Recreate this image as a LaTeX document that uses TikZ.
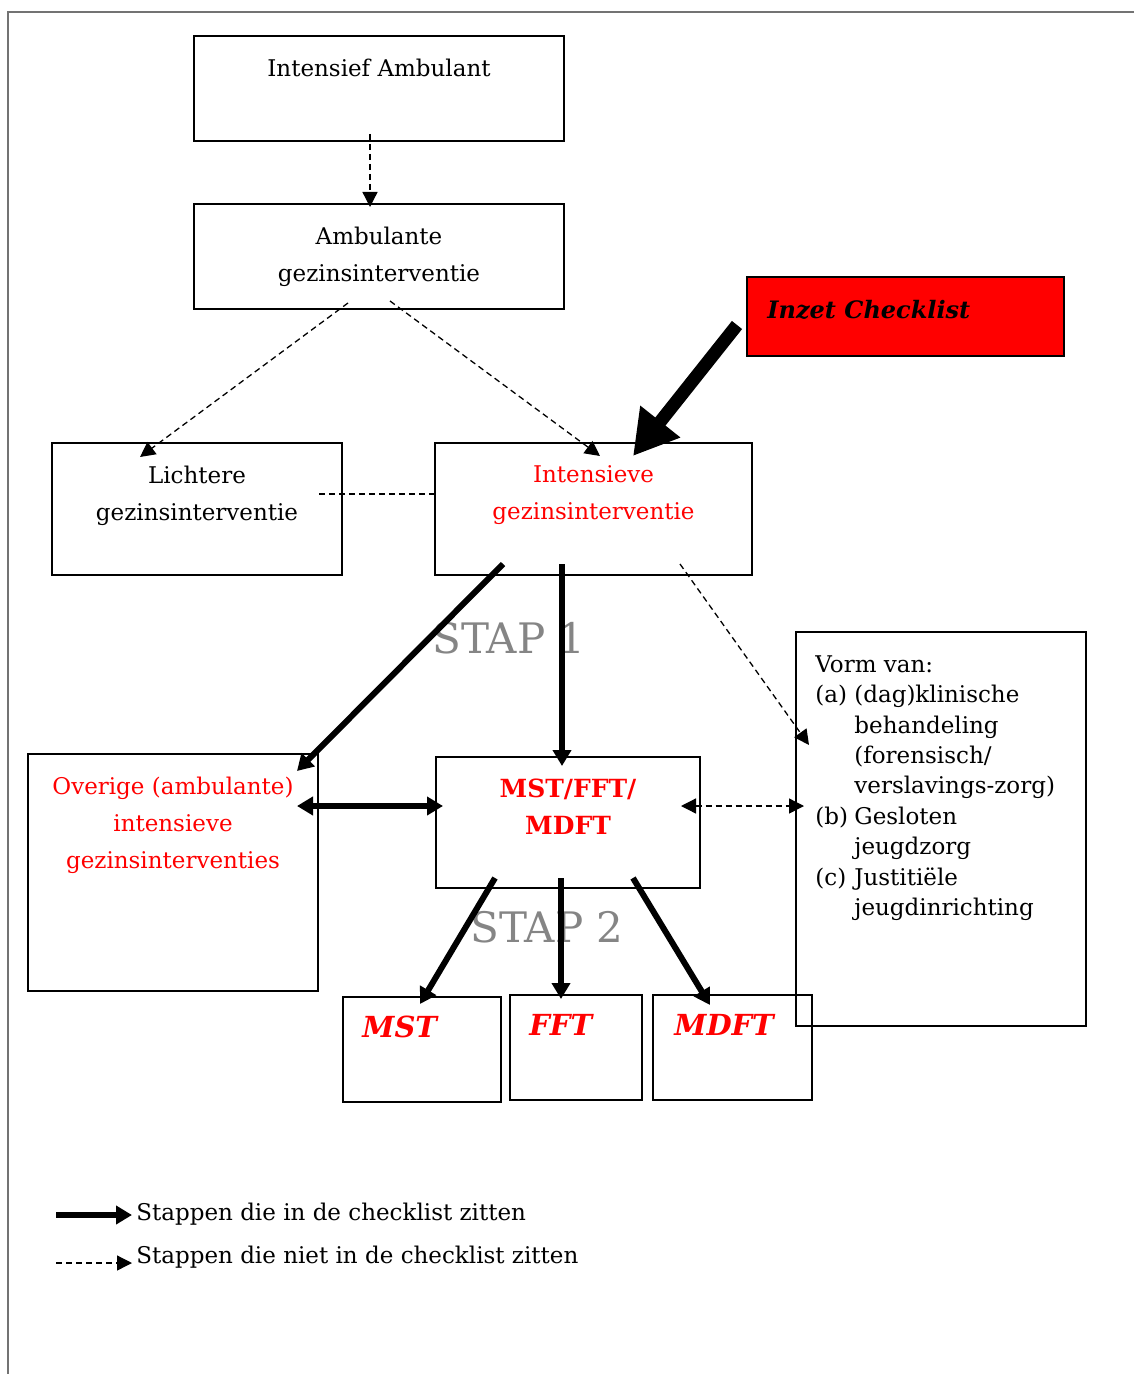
\documentclass[tikz,border=0pt]{standalone}
\usepackage{fontspec}
\setmainfont{DejaVu Serif}
\usetikzlibrary{positioning,arrows.meta}
\tikzset{
  box/.style={draw, line width=1pt, inner sep=0pt},
  txt/.style={inner sep=0pt, align=center},
  nietstap/.style={dash pattern=on 3pt off 2pt, line width=0.65pt},
  niettip/.style={-{Triangle[length=7.5pt,width=7.5pt]}},
  instap/.style={line width=3pt, -{Triangle[length=8pt,width=9pt]}},
  instapbeide/.style={line width=3pt, {Triangle[length=8pt,width=9pt]}-{Triangle[length=8pt,width=9pt]}},
  stap/.style={inner sep=0pt, anchor=base west, text=black!48, font=\fontsize{21}{25}\selectfont},
  rood/.style={text=red},
}
\begin{document}
\begin{tikzpicture}[x=0.5pt, y=-0.5pt, font=\fontsize{11.5}{18.5}\selectfont]
  \useasboundingbox (0,0) rectangle (1134,1374);
  \draw[black!55, line width=0.6pt] (1134,12) -- (8,12) -- (8,1374);

  % boxes
  \node[box, minimum width=185pt, minimum height=52.5pt] (IA) at (379,88.5) {};
  \node[box, minimum width=185pt, minimum height=52.5pt] (AG) at (379,256.5) {};
  \node[box, fill=red, minimum width=158.5pt, minimum height=39.5pt] (IC) at (905.5,316.5) {};
  \node[box, minimum width=145pt, minimum height=66pt] (LG) at (197,509) {};
  \node[box, minimum width=158.5pt, minimum height=66pt] (IG) at (593.5,509) {};
  \node[box, minimum width=145pt, minimum height=118.5pt] (OI) at (173,872.5) {};
  \node[box, minimum width=132pt, minimum height=65.5pt] (MF) at (568,822.5) {};
  \node[box, minimum width=145pt, minimum height=197pt] (VV) at (941,829) {};
  \node[box, minimum width=79pt, minimum height=52.5pt] (MST) at (422,1049.5) {};
  \node[box, minimum width=66pt, minimum height=52.5pt] (FFT) at (576,1047.5) {};
  \node[box, minimum width=79.5pt, minimum height=52.5pt] (MDFT) at (732.5,1047.5) {};

  % texts
  \node[txt, below=11.75pt of IA.north] (IAt) {Intensief Ambulant};
  \node[txt, below=11.75pt of AG.north] (AGt) {Ambulante\\gezinsinterventie};
  \node[txt, anchor=base west, font=\fontsize{12}{15}\selectfont\bfseries\itshape]
    (ICt) at ([xshift=10.5pt, yshift=-1pt]IC.west) {Inzet Checklist};
  \node[txt, below=11.75pt of LG.north] (LGt) {Lichtere\\gezinsinterventie};
  \node[txt, rood, below=11.75pt of IG.north] (IGt) {Intensieve\\gezinsinterventie};
  \node[txt, rood, below=11.75pt of OI.north] (OIt) {Overige (ambulante)\\intensieve\\gezinsinterventies};
  \node[txt, rood, below=11.25pt of MF.north, font=\fontsize{12.5}{18.5}\selectfont\bfseries] (MFt) {MST/FFT/\\MDFT};
  \node[inner sep=0pt, anchor=north west, font=\fontsize{11.5}{15.2}\selectfont]
    (VVt) at ([xshift=10pt, yshift=-9.85pt]VV.north west) {%
    \begin{tabular}{@{}p{19.5pt}@{}l@{}}
      \multicolumn{2}{@{}l@{}}{Vorm van:}\\
      (a) & (dag)klinische\\
          & behandeling\\
          & (forensisch/\\
          & verslavings-zorg)\\
      (b) & Gesloten\\
          & jeugdzorg\\
      (c) & Justitiële\\
          & jeugdinrichting
    \end{tabular}};
  \node[txt, rood, anchor=base west, font=\fontsize{14.5}{17}\selectfont\bfseries\itshape]
    (MSTt) at ([xshift=10pt, yshift=6pt]MST.west) {MST};
  \node[txt, rood, anchor=base west, font=\fontsize{14.5}{17}\selectfont\bfseries\itshape]
    (FFTt) at ([xshift=10pt, yshift=6pt]FFT.west) {FFT};
  \node[txt, rood, anchor=base west, font=\fontsize{14.5}{17}\selectfont\bfseries\itshape]
    (MDFTt) at ([xshift=11pt, yshift=6pt]MDFT.west) {MDFT};
  \node[stap] (S1) at (432,653) {STAP 1};
  \node[stap] (S2) at (470,942) {STAP 2};

  % connectors
  \draw[nietstap, niettip] ([xshift=-4.5pt, yshift=4pt]IA.south) -- ([xshift=-4.5pt, yshift=-2pt]AG.north);
  \draw[nietstap, niettip] ([xshift=-15.5pt, yshift=3.5pt]AG.south) -- ([xshift=-28.5pt, yshift=-7.5pt]LG.north);
  \draw[nietstap, niettip] ([xshift=5.5pt, yshift=4.5pt]AG.south) -- ([xshift=3.25pt, yshift=-7pt]IG.north);
  \draw[line width=6.5pt, -{Triangle[length=22pt,width=24pt]}]
    ([xshift=-4.5pt, yshift=-4.25pt]IC.west) -- ([xshift=19.75pt, yshift=-7pt]IG.north);
  \draw[nietstap] ([xshift=-12pt, yshift=7.5pt]LG.east) -- ([xshift=1.5pt, yshift=7.5pt]IG.west);
  \draw[instap] ([xshift=-45.25pt, yshift=6pt]IG.south) -- ([xshift=-11pt, yshift=-9pt]OI.north east);
  \draw[instap] ([xshift=-15.75pt, yshift=6pt]IG.south) -- ([xshift=-3pt, yshift=-5pt]MF.north);
  \draw[nietstap, niettip] ([xshift=43.25pt, yshift=6pt]IG.south) -- ([xshift=7pt, yshift=42pt]VV.west);
  \draw[instapbeide] ([xshift=-11pt, yshift=33.25pt]OI.east) -- ([xshift=4pt, yshift=8.25pt]MF.west);
  \draw[nietstap, {Triangle[length=7.5pt,width=7.5pt]}-{Triangle[length=7.5pt,width=7.5pt]}]
    ([xshift=-10pt, yshift=8.25pt]MF.east) -- ([xshift=4.5pt, yshift=11.5pt]VV.west);
  \draw[instap] ([xshift=-36.5pt, yshift=5.5pt]MF.south) -- ([xshift=-1pt, yshift=-4pt]MST.north);
  \draw[instap] ([xshift=-3.5pt, yshift=5.5pt]MF.south) -- ([xshift=-7.5pt, yshift=-2.5pt]FFT.north);
  \draw[instap] ([xshift=32.5pt, yshift=5.5pt]MF.south) -- ([xshift=-11.25pt, yshift=-5.5pt]MDFT.north);

  % legend
  \node[txt, anchor=base west] (L1) at (136,1220) {Stappen die in de checklist zitten};
  \node[txt, anchor=base west] (L2) at (136,1263) {Stappen die niet in de checklist zitten};
  \draw[instap] ([xshift=-40pt, yshift=2.5pt]L1.base west) -- ([xshift=-2pt, yshift=2.5pt]L1.base west);
  \draw[nietstap, niettip] ([xshift=-40pt, yshift=0pt]L2.base west) -- ([xshift=-2pt, yshift=0pt]L2.base west);
\end{tikzpicture}
\end{document}
